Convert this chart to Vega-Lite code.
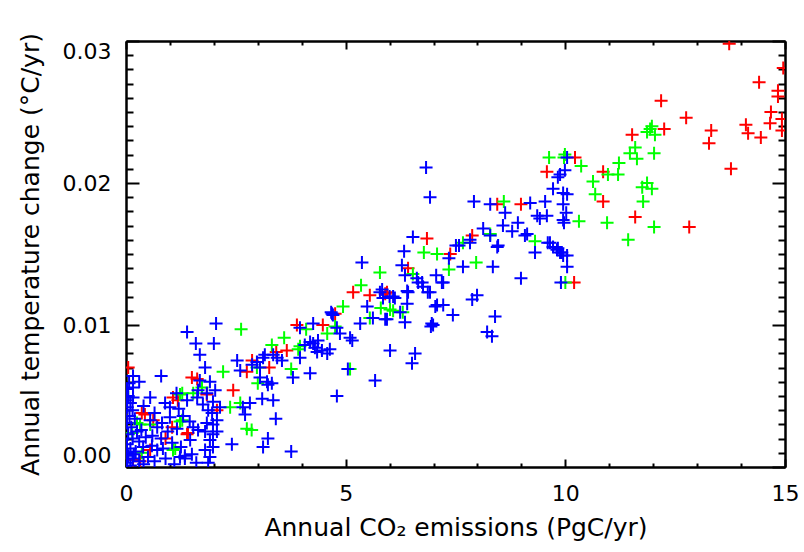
{
"$schema": "https://vega.github.io/schema/vega-lite/v6.json",
"width": 659, "height": 426,
"autosize": {"type": "none"},
"padding": {"left": 126, "top": 41, "right": 19, "bottom": 85},
"background": "white",
"config": {
  "view": {"stroke": null},
  "axis": {"domainColor": "#000", "domainWidth": 2, "tickColor": "#000", "tickWidth": 2, "grid": false,
    "labelFont": "DejaVu Sans", "labelFontSize": 22, "labelFontWeight": "normal", "labelColor": "#000",
    "titleFont": "DejaVu Sans", "titleFontSize": 25, "titleFontWeight": "normal", "titleColor": "#000"}
},
"data": {"values": [
{"x":13.73,"y":0.0298,"c":"r"},{"x":14.96,"y":0.0281,"c":"r"},{"x":14.41,"y":0.0271,"c":"r"},{"x":14.84,"y":0.0265,"c":"r"},{"x":14.84,"y":0.0261,"c":"r"},{"x":12.18,"y":0.0258,"c":"r"},{"x":14.68,"y":0.025,"c":"r"},{"x":14.93,"y":0.0245,"c":"r"},{"x":14.66,"y":0.0242,"c":"r"},{"x":12.75,"y":0.0246,"c":"r"},{"x":12.25,"y":0.0238,"c":"r"},{"x":14.11,"y":0.0241,"c":"r"},{"x":14.93,"y":0.0237,"c":"r"},{"x":13.32,"y":0.0237,"c":"r"},{"x":11.52,"y":0.0234,"c":"r"},{"x":14.16,"y":0.0235,"c":"r"},{"x":13.27,"y":0.0228,"c":"r"},{"x":14.45,"y":0.0232,"c":"r"},{"x":10.22,"y":0.0218,"c":"r"},{"x":10.86,"y":0.0208,"c":"r"},{"x":13.77,"y":0.021,"c":"r"},{"x":10.86,"y":0.0187,"c":"r"},{"x":11.59,"y":0.0176,"c":"r"},{"x":12.82,"y":0.0169,"c":"r"},{"x":9.58,"y":0.0208,"c":"r"},{"x":8.99,"y":0.0185,"c":"r"},{"x":8.45,"y":0.0185,"c":"r"},{"x":7.88,"y":0.0163,"c":"r"},{"x":10.2,"y":0.013,"c":"r"},{"x":6.85,"y":0.0161,"c":"r"},{"x":7.38,"y":0.015,"c":"r"},{"x":6.42,"y":0.014,"c":"r"},{"x":5.94,"y":0.0123,"c":"r"},{"x":5.17,"y":0.0123,"c":"r"},{"x":5.55,"y":0.0121,"c":"r"},{"x":5.9,"y":0.0122,"c":"r"},{"x":4.76,"y":0.0108,"c":"r"},{"x":3.89,"y":0.01,"c":"r"},{"x":4.48,"y":0.01,"c":"r"},{"x":3.66,"y":0.0082,"c":"r"},{"x":3.42,"y":0.0081,"c":"r"},{"x":3.26,"y":0.007,"c":"r"},{"x":2.87,"y":0.0075,"c":"r"},{"x":0.05,"y":0.007,"c":"r"},{"x":1.62,"y":0.0062,"c":"r"},{"x":2.44,"y":0.0054,"c":"r"},{"x":1.07,"y":0.0049,"c":"r"},{"x":2.07,"y":0.004,"c":"r"},{"x":0.43,"y":0.0037,"c":"r"},{"x":0.62,"y":0.0033,"c":"r"},{"x":1.05,"y":0.0028,"c":"r"},{"x":1.39,"y":0.0023,"c":"r"},{"x":0.32,"y":0.0004,"c":"r"},{"x":0.36,"y":0.0038,"c":"r"},{"x":1.5,"y":0.0063,"c":"r"},{"x":1.18,"y":0.0047,"c":"r"},{"x":0.16,"y":0.0005,"c":"r"},{"x":2.75,"y":0.0067,"c":"r"},{"x":1.84,"y":0.0051,"c":"r"},{"x":1.41,"y":0.0024,"c":"r"},{"x":0.55,"y":0.0012,"c":"r"},{"x":0.9,"y":0.002,"c":"r"},
{"x":11.93,"y":0.0238,"c":"g"},{"x":11.97,"y":0.024,"c":"g"},{"x":12.04,"y":0.0234,"c":"g"},{"x":11.86,"y":0.0236,"c":"g"},{"x":11.59,"y":0.0225,"c":"g"},{"x":11.47,"y":0.0221,"c":"g"},{"x":11.63,"y":0.0217,"c":"g"},{"x":12.02,"y":0.0221,"c":"g"},{"x":11.22,"y":0.0214,"c":"g"},{"x":10.97,"y":0.0206,"c":"g"},{"x":11.2,"y":0.0206,"c":"g"},{"x":10.63,"y":0.0201,"c":"g"},{"x":10.68,"y":0.0192,"c":"g"},{"x":10.36,"y":0.0212,"c":"g"},{"x":9.97,"y":0.0218,"c":"g"},{"x":11.86,"y":0.02,"c":"g"},{"x":11.75,"y":0.0197,"c":"g"},{"x":11.97,"y":0.0196,"c":"g"},{"x":11.77,"y":0.0187,"c":"g"},{"x":10.31,"y":0.0173,"c":"g"},{"x":10.95,"y":0.0172,"c":"g"},{"x":12.02,"y":0.0169,"c":"g"},{"x":11.43,"y":0.016,"c":"g"},{"x":9.63,"y":0.0218,"c":"g"},{"x":9.99,"y":0.022,"c":"g"},{"x":8.6,"y":0.0187,"c":"g"},{"x":8.29,"y":0.0164,"c":"g"},{"x":9.31,"y":0.0159,"c":"g"},{"x":7.67,"y":0.0158,"c":"g"},{"x":7.97,"y":0.0144,"c":"g"},{"x":10.0,"y":0.013,"c":"g"},{"x":6.78,"y":0.0151,"c":"g"},{"x":7.08,"y":0.015,"c":"g"},{"x":7.35,"y":0.0139,"c":"g"},{"x":6.53,"y":0.0136,"c":"g"},{"x":6.01,"y":0.0111,"c":"g"},{"x":5.35,"y":0.0128,"c":"g"},{"x":5.78,"y":0.0137,"c":"g"},{"x":5.8,"y":0.0112,"c":"g"},{"x":5.55,"y":0.0105,"c":"g"},{"x":4.94,"y":0.0113,"c":"g"},{"x":4.1,"y":0.0097,"c":"g"},{"x":4.58,"y":0.0094,"c":"g"},{"x":3.6,"y":0.0091,"c":"g"},{"x":3.32,"y":0.0086,"c":"g"},{"x":3.92,"y":0.0083,"c":"g"},{"x":2.98,"y":0.007,"c":"g"},{"x":3.76,"y":0.0069,"c":"g"},{"x":5.1,"y":0.0069,"c":"g"},{"x":3.0,"y":0.0059,"c":"g"},{"x":2.86,"y":0.0026,"c":"g"},{"x":2.62,"y":0.0097,"c":"g"},{"x":2.21,"y":0.0067,"c":"g"},{"x":2.37,"y":0.0042,"c":"g"},{"x":1.28,"y":0.0052,"c":"g"},{"x":0.25,"y":0.0031,"c":"g"},{"x":1.28,"y":0.0033,"c":"g"},{"x":2.75,"y":0.0027,"c":"g"},{"x":1.07,"y":0.0012,"c":"g"},{"x":0.36,"y":0.001,"c":"g"},{"x":1.53,"y":0.0052,"c":"g"},{"x":1.73,"y":0.0056,"c":"g"},{"x":1.12,"y":0.0013,"c":"g"},{"x":1.23,"y":0.0032,"c":"g"},{"x":2.6,"y":0.0045,"c":"g"},{"x":3.96,"y":0.0085,"c":"g"},{"x":4.76,"y":0.0099,"c":"g"},{"x":6.08,"y":0.011,"c":"g"},{"x":6.3,"y":0.0109,"c":"g"},{"x":1.23,"y":0.0051,"c":"g"},{"x":0.32,"y":0.003,"c":"g"},{"x":0.05,"y":0.0049,"c":"g"},{"x":0.14,"y":0.0024,"c":"g"},{"x":0.55,"y":0.003,"c":"g"},
{"x":10.04,"y":0.0218,"c":"b"},{"x":9.99,"y":0.0209,"c":"b"},{"x":9.83,"y":0.0204,"c":"b"},{"x":9.72,"y":0.0196,"c":"b"},{"x":9.95,"y":0.0193,"c":"b"},{"x":10.04,"y":0.0192,"c":"b"},{"x":9.95,"y":0.0185,"c":"b"},{"x":10.02,"y":0.0179,"c":"b"},{"x":9.95,"y":0.0174,"c":"b"},{"x":9.97,"y":0.0172,"c":"b"},{"x":9.54,"y":0.0187,"c":"b"},{"x":9.2,"y":0.0186,"c":"b"},{"x":7.92,"y":0.0187,"c":"b"},{"x":8.29,"y":0.0185,"c":"b"},{"x":8.63,"y":0.0179,"c":"b"},{"x":9.36,"y":0.0177,"c":"b"},{"x":9.42,"y":0.0175,"c":"b"},{"x":9.58,"y":0.0177,"c":"b"},{"x":8.58,"y":0.017,"c":"b"},{"x":8.92,"y":0.0172,"c":"b"},{"x":8.79,"y":0.0166,"c":"b"},{"x":8.13,"y":0.0168,"c":"b"},{"x":9.08,"y":0.0163,"c":"b"},{"x":9.13,"y":0.0164,"c":"b"},{"x":7.51,"y":0.0156,"c":"b"},{"x":7.83,"y":0.016,"c":"b"},{"x":8.47,"y":0.0156,"c":"b"},{"x":9.65,"y":0.0158,"c":"b"},{"x":9.83,"y":0.0154,"c":"b"},{"x":9.81,"y":0.0153,"c":"b"},{"x":9.92,"y":0.0151,"c":"b"},{"x":10.04,"y":0.0149,"c":"b"},{"x":10.04,"y":0.0141,"c":"b"},{"x":9.9,"y":0.013,"c":"b"},{"x":9.31,"y":0.0151,"c":"b"},{"x":7.67,"y":0.0141,"c":"b"},{"x":8.35,"y":0.0141,"c":"b"},{"x":8.99,"y":0.0133,"c":"b"},{"x":7.88,"y":0.0118,"c":"b"},{"x":7.99,"y":0.0121,"c":"b"},{"x":7.44,"y":0.0107,"c":"b"},{"x":8.4,"y":0.0106,"c":"b"},{"x":8.22,"y":0.0095,"c":"b"},{"x":8.33,"y":0.0092,"c":"b"},{"x":6.83,"y":0.0211,"c":"b"},{"x":6.92,"y":0.019,"c":"b"},{"x":9.88,"y":0.0206,"c":"b"},{"x":8.29,"y":0.0163,"c":"b"},{"x":7.58,"y":0.0156,"c":"b"},{"x":7.83,"y":0.0158,"c":"b"},{"x":8.45,"y":0.0155,"c":"b"},{"x":9.6,"y":0.0158,"c":"b"},{"x":9.72,"y":0.0155,"c":"b"},{"x":9.88,"y":0.0151,"c":"b"},{"x":9.95,"y":0.0149,"c":"b"},{"x":6.53,"y":0.0162,"c":"b"},{"x":6.33,"y":0.0152,"c":"b"},{"x":7.35,"y":0.0147,"c":"b"},{"x":6.28,"y":0.0142,"c":"b"},{"x":6.35,"y":0.0135,"c":"b"},{"x":6.62,"y":0.0133,"c":"b"},{"x":6.74,"y":0.013,"c":"b"},{"x":6.87,"y":0.0123,"c":"b"},{"x":7.06,"y":0.0135,"c":"b"},{"x":7.22,"y":0.013,"c":"b"},{"x":6.42,"y":0.0123,"c":"b"},{"x":5.83,"y":0.0125,"c":"b"},{"x":6.08,"y":0.012,"c":"b"},{"x":5.85,"y":0.0119,"c":"b"},{"x":6.24,"y":0.0109,"c":"b"},{"x":5.94,"y":0.0104,"c":"b"},{"x":6.35,"y":0.0102,"c":"b"},{"x":7.08,"y":0.0114,"c":"b"},{"x":7.22,"y":0.0114,"c":"b"},{"x":6.99,"y":0.01,"c":"b"},{"x":6.94,"y":0.0099,"c":"b"},{"x":6.01,"y":0.0082,"c":"b"},{"x":6.58,"y":0.008,"c":"b"},{"x":6.51,"y":0.0073,"c":"b"},{"x":5.37,"y":0.0144,"c":"b"},{"x":5.78,"y":0.0123,"c":"b"},{"x":6.0,"y":0.012,"c":"b"},{"x":6.12,"y":0.0119,"c":"b"},{"x":6.4,"y":0.0124,"c":"b"},{"x":6.65,"y":0.013,"c":"b"},{"x":6.76,"y":0.0127,"c":"b"},{"x":6.92,"y":0.0123,"c":"b"},{"x":7.19,"y":0.013,"c":"b"},{"x":7.04,"y":0.0113,"c":"b"},{"x":6.96,"y":0.0101,"c":"b"},{"x":6.4,"y":0.0115,"c":"b"},{"x":5.49,"y":0.0113,"c":"b"},{"x":5.62,"y":0.0105,"c":"b"},{"x":5.33,"y":0.0101,"c":"b"},{"x":4.69,"y":0.0108,"c":"b"},{"x":3.96,"y":0.0098,"c":"b"},{"x":4.26,"y":0.0101,"c":"b"},{"x":4.8,"y":0.0098,"c":"b"},{"x":4.87,"y":0.0094,"c":"b"},{"x":5.1,"y":0.0091,"c":"b"},{"x":5.15,"y":0.0089,"c":"b"},{"x":4.07,"y":0.0086,"c":"b"},{"x":4.19,"y":0.0088,"c":"b"},{"x":4.26,"y":0.0087,"c":"b"},{"x":4.37,"y":0.0089,"c":"b"},{"x":4.46,"y":0.0082,"c":"b"},{"x":4.58,"y":0.008,"c":"b"},{"x":4.35,"y":0.0081,"c":"b"},{"x":3.12,"y":0.0077,"c":"b"},{"x":3.44,"y":0.0077,"c":"b"},{"x":3.55,"y":0.0075,"c":"b"},{"x":2.98,"y":0.0074,"c":"b"},{"x":3.96,"y":0.0077,"c":"b"},{"x":4.19,"y":0.0066,"c":"b"},{"x":3.8,"y":0.0063,"c":"b"},{"x":5.05,"y":0.0069,"c":"b"},{"x":5.67,"y":0.0061,"c":"b"},{"x":4.8,"y":0.005,"c":"b"},{"x":3.05,"y":0.0063,"c":"b"},{"x":3.21,"y":0.006,"c":"b"},{"x":3.23,"y":0.0058,"c":"b"},{"x":3.32,"y":0.0059,"c":"b"},{"x":3.1,"y":0.0048,"c":"b"},{"x":3.35,"y":0.0047,"c":"b"},{"x":3.41,"y":0.0034,"c":"b"},{"x":3.23,"y":0.002,"c":"b"},{"x":3.12,"y":0.0014,"c":"b"},{"x":3.76,"y":0.0011,"c":"b"},{"x":2.05,"y":0.0101,"c":"b"},{"x":1.39,"y":0.0095,"c":"b"},{"x":1.59,"y":0.0087,"c":"b"},{"x":2.0,"y":0.0087,"c":"b"},{"x":1.68,"y":0.0079,"c":"b"},{"x":1.8,"y":0.007,"c":"b"},{"x":2.53,"y":0.0075,"c":"b"},{"x":0.16,"y":0.0064,"c":"b"},{"x":0.8,"y":0.0064,"c":"b"},{"x":1.68,"y":0.0061,"c":"b"},{"x":1.91,"y":0.006,"c":"b"},{"x":2.03,"y":0.0054,"c":"b"},{"x":1.84,"y":0.0052,"c":"b"},{"x":0.16,"y":0.0056,"c":"b"},{"x":0.16,"y":0.0049,"c":"b"},{"x":0.55,"y":0.0049,"c":"b"},{"x":0.89,"y":0.0045,"c":"b"},{"x":1.0,"y":0.0042,"c":"b"},{"x":1.39,"y":0.0047,"c":"b"},{"x":1.64,"y":0.0054,"c":"b"},{"x":1.62,"y":0.0049,"c":"b"},{"x":1.75,"y":0.0044,"c":"b"},{"x":1.87,"y":0.004,"c":"b"},{"x":1.96,"y":0.0038,"c":"b"},{"x":2.14,"y":0.0042,"c":"b"},{"x":2.66,"y":0.0042,"c":"b"},{"x":2.71,"y":0.0037,"c":"b"},{"x":2.82,"y":0.0045,"c":"b"},{"x":0.71,"y":0.0028,"c":"b"},{"x":0.82,"y":0.0031,"c":"b"},{"x":1.0,"y":0.0035,"c":"b"},{"x":1.16,"y":0.0027,"c":"b"},{"x":1.53,"y":0.0028,"c":"b"},{"x":1.64,"y":0.0026,"c":"b"},{"x":1.84,"y":0.0031,"c":"b"},{"x":1.98,"y":0.003,"c":"b"},{"x":2.07,"y":0.0025,"c":"b"},{"x":1.8,"y":0.0025,"c":"b"},{"x":1.46,"y":0.0019,"c":"b"},{"x":1.91,"y":0.0019,"c":"b"},{"x":1.98,"y":0.0014,"c":"b"},{"x":2.41,"y":0.0016,"c":"b"},{"x":0.84,"y":0.0013,"c":"b"},{"x":0.71,"y":0.0012,"c":"b"},{"x":0.59,"y":0.0015,"c":"b"},{"x":0.39,"y":0.0014,"c":"b"},{"x":1.23,"y":0.0007,"c":"b"},{"x":1.34,"y":0.0008,"c":"b"},{"x":1.91,"y":0.0007,"c":"b"},{"x":1.87,"y":0.0003,"c":"b"},{"x":2.6,"y":0.0068,"c":"b"},{"x":0.02,"y":0.0055,"c":"b"},{"x":0.05,"y":0.005,"c":"b"},{"x":0.1,"y":0.0045,"c":"b"},{"x":0.03,"y":0.0042,"c":"b"},{"x":0.15,"y":0.004,"c":"b"},{"x":0.08,"y":0.0036,"c":"b"},{"x":0.2,"y":0.0034,"c":"b"},{"x":0.02,"y":0.0031,"c":"b"},{"x":0.12,"y":0.0028,"c":"b"},{"x":0.25,"y":0.0025,"c":"b"},{"x":0.05,"y":0.0023,"c":"b"},{"x":0.15,"y":0.002,"c":"b"},{"x":0.3,"y":0.0018,"c":"b"},{"x":0.02,"y":0.0016,"c":"b"},{"x":0.1,"y":0.0013,"c":"b"},{"x":0.22,"y":0.0011,"c":"b"},{"x":0.05,"y":0.0008,"c":"b"},{"x":0.15,"y":0.0006,"c":"b"},{"x":0.3,"y":0.0004,"c":"b"},{"x":0.02,"y":0.0003,"c":"b"},{"x":0.1,"y":0.0001,"c":"b"},{"x":0.4,"y":0.0002,"c":"b"},{"x":0.5,"y":0.0007,"c":"b"},{"x":0.45,"y":0.0021,"c":"b"},{"x":0.35,"y":0.0026,"c":"b"},{"x":0.6,"y":0.0022,"c":"b"},{"x":0.0,"y":0.001,"c":"b"},{"x":0.07,"y":0.0059,"c":"b"},{"x":0.0,"y":0.0036,"c":"b"},{"x":0.0,"y":0.0047,"c":"b"},{"x":0.18,"y":0.0009,"c":"b"},{"x":0.65,"y":0.0004,"c":"b"},{"x":0.9,"y":0.0006,"c":"b"},{"x":1.1,"y":0.0002,"c":"b"},{"x":0.8,"y":0.002,"c":"b"},{"x":1.05,"y":0.0017,"c":"b"},{"x":1.25,"y":0.0014,"c":"b"},{"x":0.55,"y":0.0033,"c":"b"},{"x":0.65,"y":0.0038,"c":"b"},{"x":1.2,"y":0.0041,"c":"b"},{"x":1.3,"y":0.0036,"c":"b"},{"x":0.95,"y":0.0025,"c":"b"},{"x":1.45,"y":0.0032,"c":"b"},{"x":1.15,"y":0.0052,"c":"b"},{"x":0.4,"y":0.0043,"c":"b"},{"x":0.3,"y":0.006,"c":"b"},{"x":1.5,"y":0.0009,"c":"b"},{"x":1.6,"y":0.0003,"c":"b"},{"x":1.8,"y":0.0012,"c":"b"},{"x":2.87,"y":0.0072,"c":"b"},{"x":3.05,"y":0.007,"c":"b"},{"x":3.16,"y":0.0079,"c":"b"},{"x":3.35,"y":0.0079,"c":"b"},{"x":4.3,"y":0.0084,"c":"b"},{"x":4.64,"y":0.0083,"c":"b"},{"x":4.67,"y":0.0109,"c":"b"},{"x":4.71,"y":0.0107,"c":"b"},{"x":5.9,"y":0.0104,"c":"b"},{"x":1.98,"y":0.0046,"c":"b"},{"x":2.07,"y":0.0033,"c":"b"},{"x":1.98,"y":0.0023,"c":"b"},{"x":1.34,"y":0.0006,"c":"b"}
]},
"layer": [
  {
    "mark": {"type": "point", "shape": "M-1,0H1M0,-1V1", "size": 169, "strokeWidth": 2, "filled": false, "opacity": 1, "clip": true},
    "encoding": {
      "x": {"field": "x", "type": "quantitative", "scale": {"domain": [0, 15], "nice": false, "zero": false},
        "axis": {"orient": "bottom", "values": [0, 5, 10, 15], "tickSize": -8, "labelPadding": 24, "labelFlush": false, "titlePadding": 11, "title": "Annual CO₂ emissions (PgC/yr)"}},
      "y": {"field": "y", "type": "quantitative", "scale": {"domain": [0, 0.03], "nice": false, "zero": false},
        "axis": {"orient": "left", "values": [0, 0.01, 0.02, 0.03], "format": ".2f", "tickSize": -13, "labelPadding": 28, "labelFlush": true, "titlePadding": 19, "title": "Annual temperature change (°C/yr)"}},
      "color": {"field": "c", "type": "nominal", "scale": {"domain": ["r", "g", "b"], "range": ["#ff0000", "#00ff00", "#0000ff"]}, "legend": null}
    }
  },
  {
    "mark": {"type": "point", "opacity": 0},
    "encoding": {
      "x": {"field": "x", "type": "quantitative", "axis": {"orient": "bottom", "values": [1,2,3,4,6,7,8,9,11,12,13,14], "tickSize": -4, "labels": false, "title": null}},
      "y": {"field": "y", "type": "quantitative", "axis": {"orient": "left", "values": [0.001,0.002,0.003,0.004,0.005,0.006,0.007,0.008,0.009,0.011,0.012,0.013,0.014,0.015,0.016,0.017,0.018,0.019,0.021,0.022,0.023,0.024,0.025,0.026,0.027,0.028,0.029], "tickSize": -7, "labels": false, "title": null}}
    }
  },
  {
    "mark": {"type": "point", "opacity": 0},
    "encoding": {
      "x": {"field": "x", "type": "quantitative", "axis": {"orient": "top", "values": [0, 5, 10, 15], "tickSize": -8, "labels": false, "title": null}},
      "y": {"field": "y", "type": "quantitative", "axis": {"orient": "right", "values": [0, 0.01, 0.02, 0.03], "tickSize": -13, "labels": false, "title": null}}
    }
  },
  {
    "mark": {"type": "point", "opacity": 0},
    "encoding": {
      "x": {"field": "x", "type": "quantitative", "axis": {"orient": "top", "values": [1,2,3,4,6,7,8,9,11,12,13,14], "tickSize": -4, "labels": false, "title": null}},
      "y": {"field": "y", "type": "quantitative", "axis": {"orient": "right", "values": [0.001,0.002,0.003,0.004,0.005,0.006,0.007,0.008,0.009,0.011,0.012,0.013,0.014,0.015,0.016,0.017,0.018,0.019,0.021,0.022,0.023,0.024,0.025,0.026,0.027,0.028,0.029], "tickSize": -7, "labels": false, "title": null}}
    }
  }
],
"resolve": {"axis": {"x": "independent", "y": "independent"}}
}
